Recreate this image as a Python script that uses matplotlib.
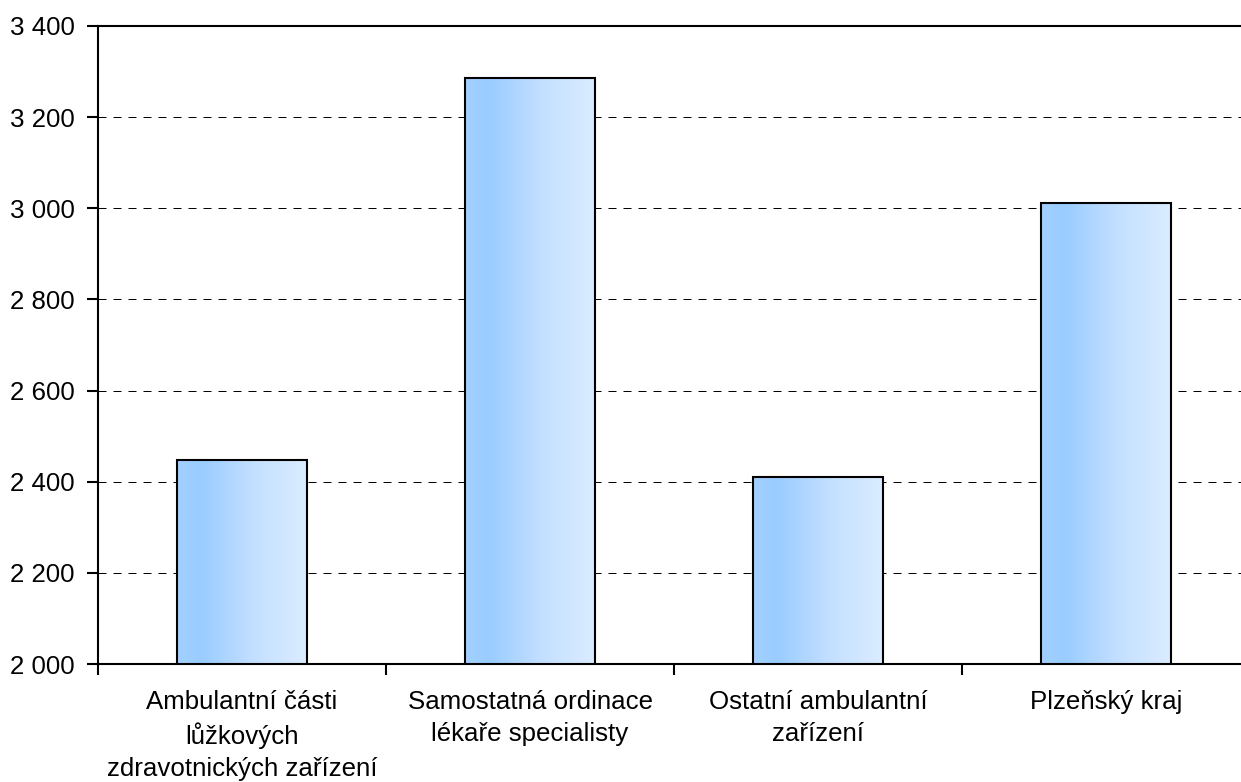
import numpy as np
import matplotlib
matplotlib.use("Agg")
from matplotlib import pyplot as plt
from matplotlib.colors import LinearSegmentedColormap
from matplotlib.ticker import FuncFormatter, FixedLocator

categories = ["Ambulantní části\nlůžkových\nzdravotnických zařízení",
              "Samostatná ordinace\nlékaře specialisty",
              "Ostatní ambulantní\nzařízení",
              "Plzeňský kraj"]
values = [2448, 3286, 2411, 3011]
yticks = [2000, 2200, 2400, 2600, 2800, 3000, 3200, 3400]

plt.rcParams['font.family'] = ['Liberation Sans', 'DejaVu Sans']

fig = plt.figure(figsize=(12.41, 7.82), dpi=100)
ax = fig.add_axes([98/1241, 118/782, 1152/1241, 638/782])

x = np.arange(len(categories))
bars = ax.bar(x, values, width=0.45, bottom=0, color='none',
              edgecolor='black', linewidth=1.5, zorder=3)

# horizontal gradient inside each bar
grad_cmap = LinearSegmentedColormap.from_list(
    "g", [(0, "#a3d0ff"), (0.18, "#99ccff"), (0.6, "#c4e0ff"), (1, "#dbecff")])
grad = np.linspace(0, 1, 256).reshape(1, -1)
for b in bars:
    x0 = b.get_x()
    w = b.get_width()
    h = b.get_height()
    im = ax.imshow(grad, cmap=grad_cmap, aspect='auto',
                   extent=[x0, x0 + w, 2000, h], zorder=2)
    im.set_clip_path(b)

ax.set_xlim(-0.5, len(categories) - 0.5)
ax.set_ylim(2000, 3400)
ax.set_yticks(yticks)
ax.yaxis.set_major_formatter(FuncFormatter(lambda v, p: f"{int(v):,}".replace(",", " ")))
ax.yaxis.grid(True, color='black', linewidth=0.72, linestyle=(0, (8, 7)), zorder=1)
ax.set_axisbelow(True)

ax.set_xticks(x)
ax.set_xticklabels(categories, fontsize=18.6, linespacing=1.38)
ax.tick_params(axis='x', which='major', length=0, pad=19)
ax.xaxis.set_minor_locator(FixedLocator(np.arange(-0.5, len(categories), 1.0)))
ax.tick_params(axis='x', which='minor', length=8, width=1.5, direction='out')
ax.tick_params(axis='y', length=8, width=1.5, direction='out', labelsize=18.6, pad=9)

for s in ax.spines.values():
    s.set_linewidth(1.5)
ax.spines['right'].set_visible(False)

fig.savefig("out.png", dpi=100)
